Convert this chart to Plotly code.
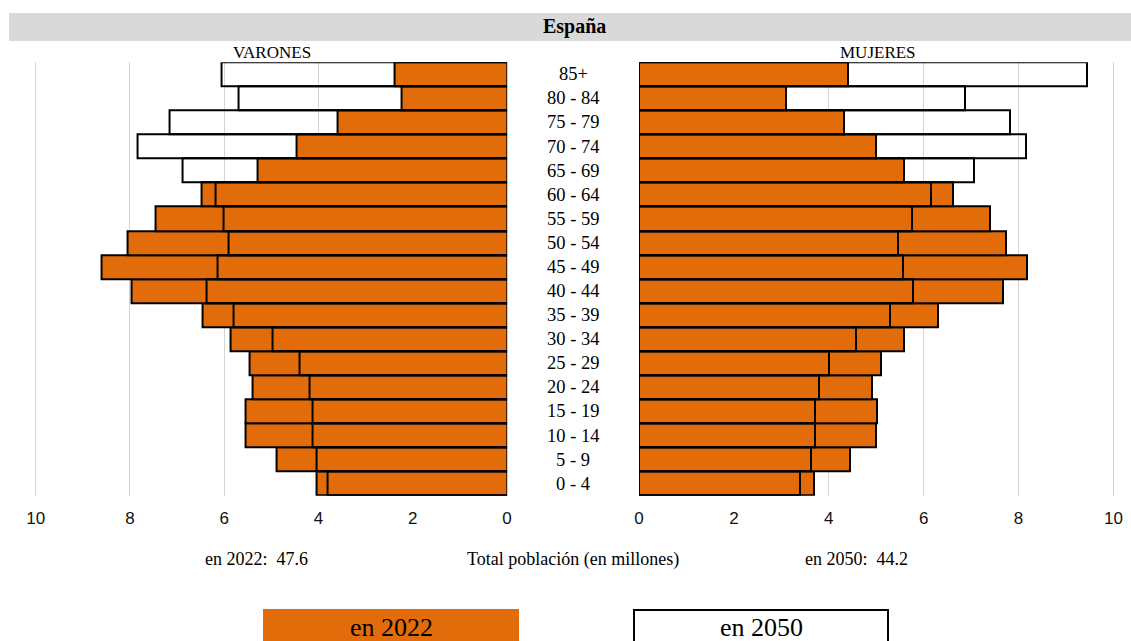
import plotly.graph_objects as go
from plotly.subplots import make_subplots

ages = ["0 - 4", "5 - 9", "10 - 14", "15 - 19", "20 - 24", "25 - 29", "30 - 34",
        "35 - 39", "40 - 44", "45 - 49", "50 - 54", "55 - 59", "60 - 64",
        "65 - 69", "70 - 74", "75 - 79", "80 - 84", "85+"]

varones_2022 = [4.05, 4.89, 5.54, 5.54, 5.40, 5.46, 5.86, 6.46, 7.97, 8.61,
                8.06, 7.46, 6.48, 5.29, 4.47, 3.59, 2.24, 2.38]
varones_2050 = [3.80, 4.05, 4.12, 4.12, 4.20, 4.41, 4.98, 5.81, 6.38, 6.14,
                5.91, 6.02, 6.19, 6.88, 7.83, 7.16, 5.70, 6.05]
mujeres_2022 = [3.68, 4.44, 4.99, 5.01, 4.90, 5.09, 5.59, 6.30, 7.67, 8.17,
                7.73, 7.39, 6.62, 5.59, 5.00, 4.32, 3.10, 4.40]
mujeres_2050 = [3.40, 3.63, 3.71, 3.71, 3.79, 4.00, 4.57, 5.29, 5.78, 5.57,
                5.46, 5.76, 6.15, 7.07, 8.15, 7.81, 6.86, 9.44]

total_2022 = "47.6"
total_2050 = "44.2"
x_ticks = [0, 2, 4, 6, 8, 10]

ORANGE = "#E36C0A"
SERIF = "Liberation Serif, Times New Roman, serif"
SANS = "Liberation Sans, Arial, sans-serif"
W, H = 1131, 641

fig = make_subplots(rows=1, cols=2, shared_yaxes=False, horizontal_spacing=0)

line = dict(color="black", width=2)
fig.add_trace(go.Bar(y=ages, x=varones_2022, orientation="h", name="en 2022",
                     marker=dict(color=ORANGE, line=line), showlegend=False), 1, 1)
fig.add_trace(go.Bar(y=ages, x=varones_2050, orientation="h", name="en 2050",
                     marker=dict(color="rgba(0,0,0,0)", line=line), showlegend=False), 1, 1)
fig.add_trace(go.Bar(y=ages, x=mujeres_2022, orientation="h", name="en 2022",
                     marker=dict(color=ORANGE, line=line), showlegend=False), 1, 2)
fig.add_trace(go.Bar(y=ages, x=mujeres_2050, orientation="h", name="en 2050",
                     marker=dict(color="rgba(0,0,0,0)", line=line), showlegend=False), 1, 2)

top_px, bot_px = 62.3, 495.7
ydom = [1 - bot_px / H, 1 - top_px / H]

XMAX = 10.3
L_ZERO, L_UNIT = 507.1, 47.14
R_ZERO, R_UNIT = 639.0, 47.45

xaxis_common = dict(tickvals=x_ticks, ticktext=[str(t) for t in x_ticks],
                    showgrid=True, gridcolor="#d4d4d4", gridwidth=1, automargin=False,
                    zeroline=False, showline=False, ticks="", ticklabelstandoff=10,
                    tickfont=dict(family=SANS, size=17, color="#111"))
fig.update_xaxes(range=[XMAX, 0], domain=[(L_ZERO - XMAX * L_UNIT) / W, L_ZERO / W],
                 **xaxis_common, row=1, col=1)
fig.update_xaxes(range=[0, XMAX], domain=[R_ZERO / W, (R_ZERO + XMAX * R_UNIT) / W],
                 **xaxis_common, row=1, col=2)
for c in (1, 2):
    fig.update_yaxes(categoryorder="array", categoryarray=ages, showticklabels=False,
                     showgrid=False, zeroline=False, domain=ydom, automargin=False, row=1, col=c)

annotations = []
for a in ages:
    annotations.append(dict(x=573 / W, y=a, xref="paper", yref="y", text=a,
                            showarrow=False, xanchor="center", yanchor="middle",
                            font=dict(family=SERIF, size=18.5, color="#000")))

def px_ann(x, y, text, size, bold=False, anchor="center"):
    t = f"<b>{text}</b>" if bold else text
    return dict(x=x / W, y=1 - y / H, xref="paper", yref="paper", text=t,
                showarrow=False, xanchor=anchor, yanchor="middle",
                font=dict(family=SERIF, size=size, color="#000"))

annotations += [
    px_ann(574, 27, "España", 20, bold=True),
    px_ann(272, 53, "VARONES", 17),
    px_ann(878, 53, "MUJERES", 17),
    px_ann(256, 559, "en 2022:\u00a0 " + total_2022, 18),
    px_ann(573, 559, "Total población (en millones)", 18),
    px_ann(857, 559, "en 2050:\u00a0 " + total_2050, 18),
    px_ann(391, 627, "en 2022", 26),
    px_ann(761, 627, "en 2050", 26),
]

shapes = [
    dict(type="rect", xref="paper", yref="paper", x0=9 / W, x1=1, y0=1 - 41 / H, y1=1 - 13 / H,
         fillcolor="#d9d9d9", line=dict(width=0), layer="below"),
    dict(type="rect", xref="paper", yref="paper", x0=263 / W, x1=519 / W, y0=0, y1=1 - 609 / H,
         fillcolor=ORANGE, line=dict(width=0)),
    dict(type="rect", xref="paper", yref="paper", x0=634 / W, x1=888 / W, y0=-0.01, y1=1 - 610 / H,
         fillcolor="white", line=dict(color="black", width=2)),
]

fig.update_layout(width=W, height=H, margin=dict(l=0, r=0, t=0, b=0, pad=0, autoexpand=False),
                  autosize=False,
                  barmode="overlay", bargap=0, plot_bgcolor="white", paper_bgcolor="white",
                  annotations=annotations, shapes=shapes, showlegend=False)

fig.write_html("out.html",
               config={"responsive": False, "displayModeBar": False},
               post_script="document.body.style.margin='0px';document.body.style.overflow='hidden';")
